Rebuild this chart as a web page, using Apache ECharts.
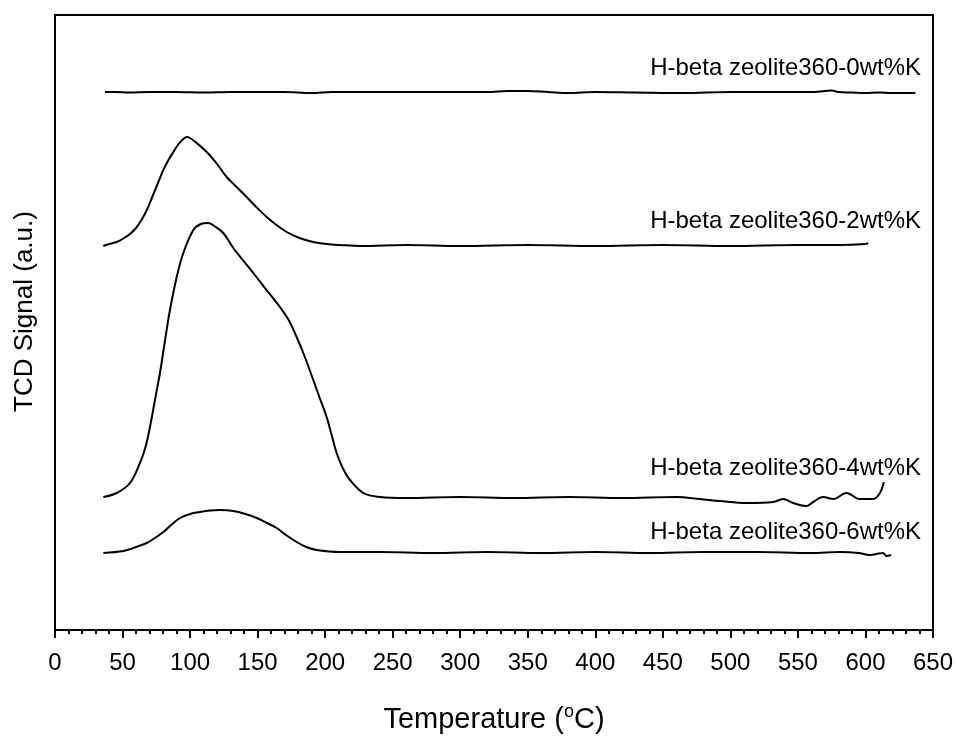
<!DOCTYPE html>
<html>
<head>
<meta charset="utf-8">
<script src="https://cdn.jsdelivr.net/npm/echarts@6/dist/echarts.min.js"></script>
<style>
  html, body { margin: 0; padding: 0; background: #fff; }
  #chart { width: 955px; height: 736px; }
</style>
</head>
<body>
<div id="chart"></div>
<script>
// TPD traces (TCD signal, arbitrary units, offset per sample) vs temperature in °C
const tempK0 = [37, 45, 55, 70, 90, 110, 130, 150, 170, 190, 205, 240, 280, 320, 335, 350, 365, 380, 400, 430, 465, 500, 530, 560, 570, 575, 580, 590, 600, 610, 620, 637];
const sigK0  = [538, 538, 537.5, 538, 538, 537.5, 538, 538, 538, 537, 538, 538, 538, 538, 539, 539, 538, 537, 538, 537.5, 537, 538, 538, 538, 539, 539.5, 538, 537.5, 537, 537.5, 537, 537];

const tempK2 = [35.8, 40, 45.7, 50, 55.5, 60, 64, 68, 72, 76.5, 80.2, 84, 87.6, 91.5, 95.0, 97.5, 100, 104, 112.3, 120, 127.1, 134.5, 141.9, 149, 156.7, 164, 171.5, 181, 191.2, 201, 211, 226, 260, 300, 350, 400, 450, 500, 550, 580, 600, 602];
const sigK2  = [384, 386, 388, 391, 396, 402, 410, 420, 433, 448, 460, 470, 478, 486, 491, 493, 492, 488, 478, 466, 453, 443, 433, 423, 413, 405, 398, 392, 388, 386, 385, 384, 385, 384, 385, 384, 385, 384, 385, 385, 386, 387];

const tempK4 = [35.8, 45.7, 55.5, 62.9, 67, 70.3, 74, 77.7, 81.5, 85.1, 90.1, 95.0, 102.4, 108, 113.5, 119, 124.6, 132.0, 139, 146.8, 156, 166.5, 173, 178.9, 185, 191.2, 196, 201.1, 205, 208.5, 213, 218.4, 228.2, 240.6, 260, 300, 340, 380, 420, 460, 477.4, 492.2, 512, 531.7, 539.1, 546.5, 556.4, 561.3, 568.7, 576.1, 586, 595.8, 605.7, 610.7, 613.6];
const sigK4  = [133, 137, 147, 167, 183, 203, 230, 257, 290, 320, 353, 377, 400, 406, 407, 403, 397, 382, 370, 357, 341, 323, 310, 293, 273, 250, 232, 213, 194, 177, 162, 150, 137, 133, 132, 133, 132, 133, 132, 133, 131, 129, 127, 128, 131, 127, 124, 128, 133, 131, 137, 131, 131, 137, 148];

const tempK6 = [35.8, 50.6, 60, 67.9, 74, 80.2, 86, 92.5, 100, 107.3, 115, 122.1, 132.0, 141, 149.3, 157, 164.1, 171, 178.9, 186, 193.7, 211, 240.6, 280, 320, 360, 400, 440, 480, 520, 560, 581, 595, 603, 608, 613, 615.6, 619];
const sigK6  = [77, 79, 83, 87, 92, 98, 105, 112, 116, 118, 119.5, 120, 119, 116, 112, 107, 102, 95, 88, 83, 80, 78, 78, 77, 78, 77, 78, 77, 78, 78, 77, 78, 77, 75, 76, 77, 74, 75];

const sampleNames = [
  'H-beta zeolite360-0wt%K',
  'H-beta zeolite360-2wt%K',
  'H-beta zeolite360-4wt%K',
  'H-beta zeolite360-6wt%K'
];

const xTicks = { min: 0, max: 650, interval: 50 };

const zip = (xs, ys) => xs.map((x, i) => [x, ys[i]]);
const traces = [zip(tempK0, sigK0), zip(tempK2, sigK2), zip(tempK4, sigK4), zip(tempK6, sigK6)];

const chart = echarts.init(document.getElementById('chart'), null, { renderer: 'canvas' });

const font = 'Liberation Sans, Arial, sans-serif';

// sample label anchor: right edge and vertical centre, in pixels
const labelY = [68, 221, 468, 532];

chart.setOption({
  animation: false,
  backgroundColor: '#fff',
  grid: {
    left: 55, right: 22, top: 15, bottom: 106,
    outerBoundsMode: 'none',
    show: true, borderColor: '#000', borderWidth: 2, backgroundColor: 'transparent'
  },
  xAxis: {
    type: 'value',
    min: xTicks.min, max: xTicks.max, interval: xTicks.interval,
    name: 'Temperature ({sup|o}C)',
    nameLocation: 'middle',
    nameGap: 73,
    nameTextStyle: {
      fontFamily: font, fontSize: 29, color: '#000',
      rich: { sup: { fontSize: 18, verticalAlign: 'top', fontFamily: font, color: '#000', padding: [0, 0, 16, 0] } }
    },
    axisLine: { show: true, lineStyle: { color: '#000', width: 2 } },
    axisTick: { show: true, inside: false, length: 8, lineStyle: { color: '#000', width: 2 } },
    minorTick: { show: true, splitNumber: 5, length: 4, lineStyle: { color: '#000', width: 2 } },
    axisLabel: { fontFamily: font, fontSize: 24, color: '#000', margin: 21 },
    splitLine: { show: false }
  },
  yAxis: {
    type: 'value',
    min: 0, max: 615,
    name: 'TCD Signal (a.u.)',
    nameLocation: 'middle',
    nameRotate: 90,
    nameGap: 17,
    nameTextStyle: { fontFamily: font, fontSize: 26, color: '#000', padding: [0, 0, 0, 22] },
    axisLine: { show: true, lineStyle: { color: '#000', width: 2 } },
    axisTick: { show: false },
    axisLabel: { show: false },
    splitLine: { show: false }
  },
  series: traces.map((d, i) => ({
    name: sampleNames[i],
    type: 'line',
    data: d,
    showSymbol: false,
    smooth: 0.35,
    lineStyle: { color: '#000', width: 2 },
    z: 3
  })),
  graphic: sampleNames.map((t, i) => ({
    type: 'text',
    x: 921,
    y: labelY[i],
    style: {
      text: t,
      fontFamily: font,
      fontSize: 24,
      fill: '#000',
      textAlign: 'right',
      textVerticalAlign: 'middle'
    }
  }))
});
</script>
</body>
</html>
